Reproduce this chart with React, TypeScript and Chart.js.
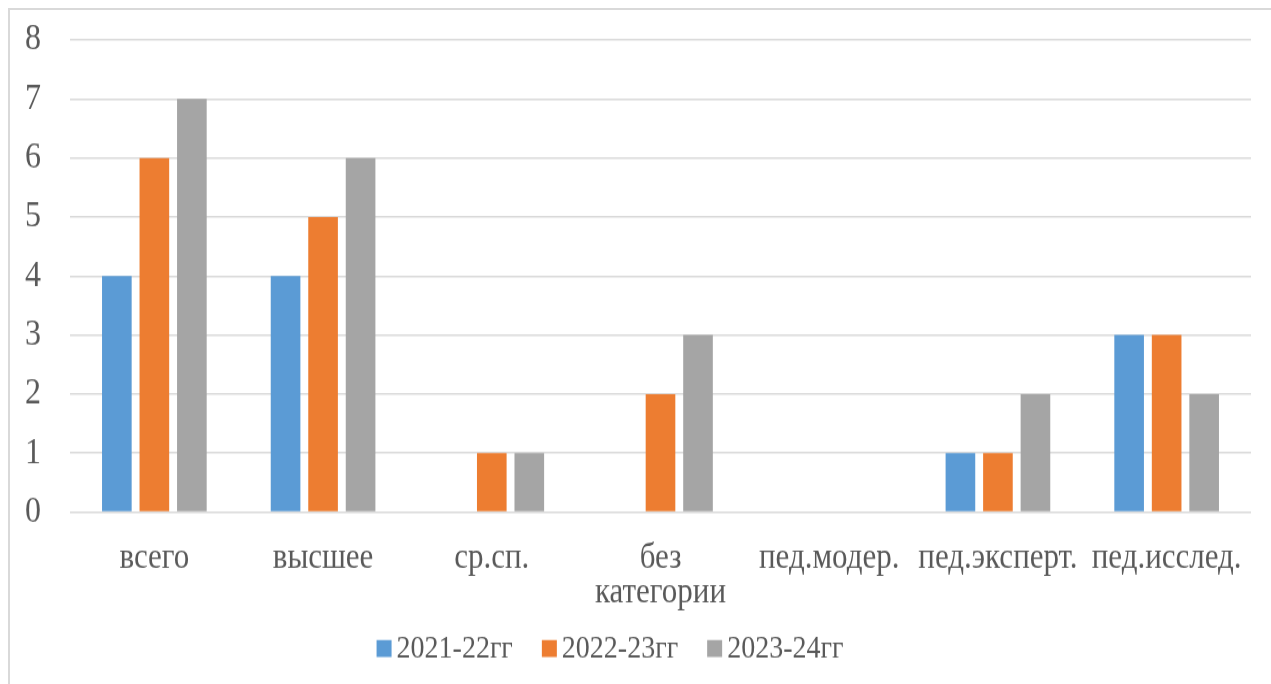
import React, { useEffect, useRef } from 'react';
import { Chart, registerables } from 'chart.js';

Chart.register(...registerables);

const categories: (string | string[])[] = [
  'всего',
  'высшее',
  'ср.сп.',
  ['без', 'категории'],
  'пед.модер.',
  'пед.эксперт.',
  'пед.исслед.',
];
const seriesNames = ['2021-22гг', '2022-23гг', '2023-24гг'];
const values2021 = [4, 4, 0, 0, 0, 1, 3];
const values2022 = [6, 5, 1, 2, 0, 1, 3];
const values2023 = [7, 6, 1, 3, 0, 2, 2];
const yMin = 0;
const yMax = 8;
const yStep = 1;

const colors = ['#5b9bd5', '#ed7d31', '#a5a5a5'];
const textColor = '#595959';
const gridColor = '#d9d9d9';
const fontFamily = '"Liberation Serif", "Times New Roman", serif';

const CANVAS_W = 1261;
const CANVAS_H = 586; // drawn, then stretched vertically to 674 px
const STRETCH = 674 / CANVAS_H;

const legendPlugin = {
  id: 'customLegend',
  afterDraw(chart: any) {
    const ctx: CanvasRenderingContext2D = chart.ctx;
    ctx.save();
    ctx.font = `28px ${fontFamily}`;
    const boxW = 15;
    const boxH = 17 / STRETCH;
    const gap = 5;
    const itemGap = 29;
    const items = chart.data.datasets.map((ds: any) => ({
      text: ds.label as string,
      color: ds.backgroundColor as string,
      w: ctx.measureText(ds.label).width,
    }));
    const total =
      items.reduce((a: number, it: any) => a + boxW + gap + it.w, 0) +
      itemGap * (items.length - 1);
    let x = 600 - total / 2;
    const cy = 638.5 / STRETCH;
    ctx.textBaseline = 'middle';
    ctx.textAlign = 'left';
    for (const it of items) {
      ctx.fillStyle = it.color;
      ctx.fillRect(x, cy - boxH / 2, boxW, boxH);
      ctx.fillStyle = textColor;
      ctx.fillText(it.text, x + boxW + gap, cy + 1);
      x += boxW + gap + it.w + itemGap;
    }
    ctx.restore();
  },
};

export default function App() {
  const ref = useRef<HTMLCanvasElement | null>(null);

  useEffect(() => {
    if (!ref.current) return;
    const chart = new Chart(ref.current, {
      type: 'bar',
      data: {
        labels: categories as any,
        datasets: [values2021, values2022, values2023].map((v, i) => ({
          label: seriesNames[i],
          data: v,
          backgroundColor: colors[i],
          borderWidth: 0,
          categoryPercentage: 0.667,
          barPercentage: 0.79,
        })),
      },
      plugins: [legendPlugin],
      options: {
        animation: false,
        responsive: false,
        devicePixelRatio: 1,
        layout: { padding: { top: 26, right: 20, bottom: 52, left: 0 } },
        plugins: {
          tooltip: { enabled: false },
          legend: { display: false },
        },
        scales: {
          x: {
            grid: { display: false },
            border: { display: false },
            ticks: {
              color: textColor,
              padding: 18,
              maxRotation: 0,
              autoSkip: false,
              font: { family: fontFamily, size: 31, lineHeight: 0.95 },
            },
            afterFit: (s: any) => {
              s.height = 97.5;
            },
          },
          y: {
            min: yMin,
            max: yMax,
            grid: { color: gridColor, lineWidth: 1.4, drawTicks: false },
            border: { display: false },
            ticks: {
              stepSize: yStep,
              color: textColor,
              padding: 29,
              font: { family: fontFamily, size: 32 },
            },
            afterFit: (s: any) => {
              s.width = 60;
              s.paddingTop = 0;
              s.paddingBottom = 0;
            },
          },
        },
      },
    });
    return () => chart.destroy();
  }, []);

  return (
    <div
      style={{
        position: 'fixed',
        left: 8,
        top: 8,
        width: 1263,
        height: 676,
        borderLeft: '2px solid #d9d9d9',
        borderTop: '2px solid #d9d9d9',
        boxSizing: 'border-box',
        background: '#fff',
        overflow: 'hidden',
      }}
    >
      <canvas
        ref={ref}
        width={CANVAS_W}
        height={CANVAS_H}
        style={{
          display: 'block',
          transform: `scaleY(${STRETCH})`,
          transformOrigin: '0 0',
        }}
      />
    </div>
  );
}
